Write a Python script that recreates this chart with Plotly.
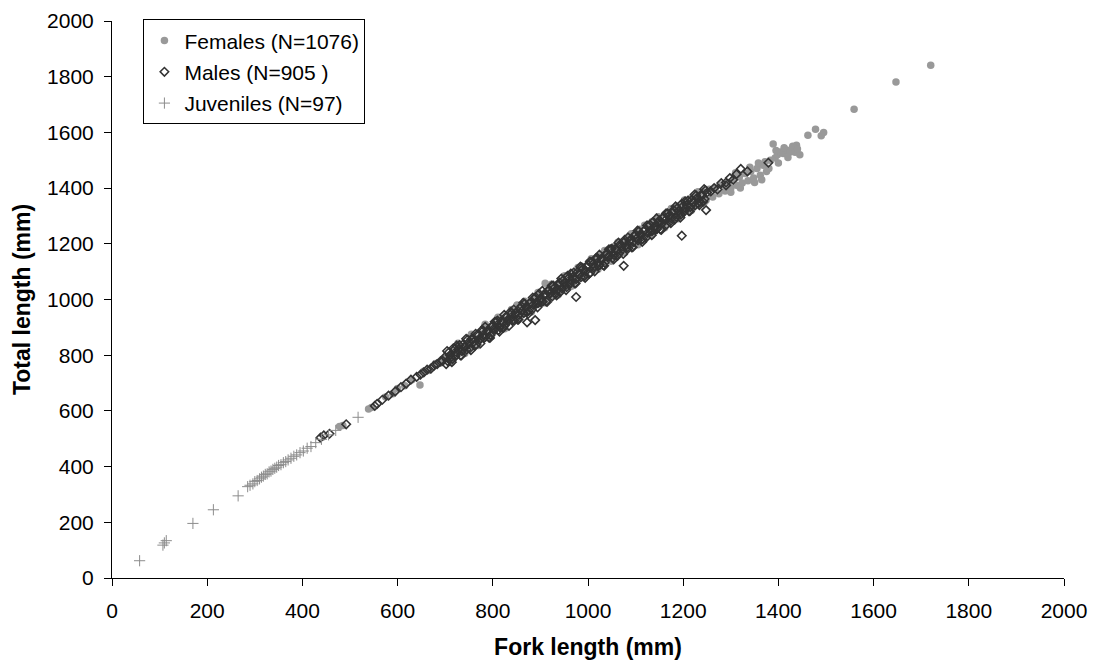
import plotly.graph_objects as go

# Fork length (FL) vs total length (TL), in mm
female_fl = [478, 485, 539, 545, 575, 590, 600, 615, 630, 647, 655, 665, 680, 690, 700, 710, 718, 725,
             735, 742, 750, 756, 762, 770, 776, 784, 790, 795, 802, 808, 815, 822, 828, 835, 842, 851,
             856, 862, 870, 876, 884, 890, 896, 902, 910, 915, 922, 928, 935, 942, 948, 955, 962, 968,
             975, 982, 988, 995, 1002, 1008, 1015, 1022, 1028, 1035, 1042, 1048, 1055, 1062, 1068, 1075,
             1082, 1088, 1095, 1102, 1108, 1115, 1122, 1128, 1135, 1142, 1148, 1155, 1162, 1168, 1175,
             1182, 1188, 1195, 1202, 1208, 1215, 1222, 1228, 1235, 1242, 1248, 1255, 1262, 1268, 1275,
             1282, 1288, 1295, 1300, 1306, 1312, 1318, 1324, 1330, 1336, 1342, 1348, 1355, 1362, 1368,
             1375, 1383, 1389, 1393, 1398, 1404, 1410, 1418, 1425, 1435, 1438, 1462, 1478, 1490, 1495,
             1559, 1647, 1720,
             713, 727, 741, 755, 769, 783, 797, 811, 825, 839, 853, 867, 881, 895, 909, 923, 937, 951,
             965, 979, 993, 1007, 1021, 1035, 1049, 1063, 1077, 1091, 1105, 1119, 1133, 1147, 1161,
             1175, 1189, 1203, 1217, 1231, 1245,
             1300, 1310, 1320, 1340, 1350, 1358, 1365, 1372, 1380, 1395, 1400, 1412, 1420, 1430, 1440,
             1445]
female_tl = [544, 548, 607, 612, 650, 662, 680, 690, 712, 693, 742, 745, 770, 772, 790, 800, 812, 808,
             830, 826, 846, 836, 860, 852, 876, 911, 870, 898, 884, 912, 900, 928, 914, 944, 926, 980,
             942, 975, 958, 990, 972, 1006, 984, 1018, 1058, 1000, 1036, 1014, 1052, 1030, 1068, 1044,
             1084, 1060, 1100, 1076, 1116, 1090, 1134, 1108, 1146, 1122, 1160, 1136, 1178, 1150, 1190,
             1166, 1206, 1180, 1220, 1196, 1236, 1210, 1252, 1226, 1266, 1240, 1280, 1254, 1294, 1268,
             1306, 1282, 1322, 1296, 1336, 1310, 1348, 1324, 1362, 1334, 1374, 1346, 1386, 1356, 1396,
             1368, 1402, 1380, 1412, 1390, 1420, 1400, 1432, 1410, 1440, 1418, 1452, 1426, 1460, 1436,
             1470, 1446, 1482, 1460, 1500, 1558, 1508, 1520, 1530, 1524, 1536, 1530, 1529, 1554, 1590,
             1611, 1588, 1600, 1683, 1781, 1841,
             774, 843, 806, 875, 835, 904, 867, 936, 895, 964, 927, 994, 955, 1025, 988, 1055, 1016,
             1085, 1048, 1115, 1076, 1146, 1109, 1176, 1137, 1206, 1169, 1236, 1197, 1267, 1230, 1297,
             1258, 1327, 1290, 1357, 1320, 1387, 1351,
             1385, 1455, 1400, 1475, 1420, 1490, 1430, 1495, 1470, 1535, 1490, 1545, 1510, 1550, 1540,
             1520]

male_fl = [438, 445, 457, 492, 552, 557, 568, 581, 595, 607, 618, 628, 640, 648, 655, 662, 670, 676,
           683, 690, 695,
           700, 705, 710, 715, 720, 725, 730, 735, 740, 745, 750, 755, 760, 765, 770, 775, 780, 785,
           790, 795, 800, 805, 810, 815, 820, 825, 830, 835, 840, 845, 850, 855, 860, 865, 870, 875,
           880, 885, 890, 895, 900, 905, 910, 915, 920, 925, 930, 935, 940, 945, 950, 955, 960, 965,
           970, 975, 980, 985, 990, 995, 1000, 1005, 1010, 1015, 1020, 1025, 1030, 1035, 1040, 1045,
           1050, 1055, 1060, 1065, 1070, 1075, 1080, 1085, 1090, 1095, 1100, 1105, 1110, 1115, 1120,
           1125, 1130, 1135, 1140, 1145, 1150, 1155, 1160, 1165, 1170, 1175, 1180, 1185, 1190, 1195,
           1200, 1205, 1210, 1215, 1220, 1225, 1230, 1235, 1240, 1245, 1250,
           702, 707, 712, 717, 722, 727, 732, 737, 742, 747, 752, 757, 762, 767, 772, 777, 782, 787,
           792, 797, 802, 807, 812, 817, 822, 827, 832, 837, 842, 847, 852, 857, 862, 867, 872, 877,
           882, 887, 892, 897, 902, 907, 912, 917, 922, 927, 932, 937, 942, 947, 952, 957, 962, 967,
           972, 977, 982, 987, 992, 997, 1002, 1007, 1012, 1017, 1022, 1027, 1032, 1037, 1042, 1047,
           1052, 1057, 1062, 1067, 1072, 1077, 1082, 1087, 1092, 1097, 1102, 1107, 1112, 1117, 1122,
           1127, 1132, 1137, 1142, 1147, 1152, 1157, 1162, 1167, 1172, 1177, 1182, 1187, 1192, 1197,
           1202, 1207, 1212, 1217, 1222, 1227, 1232, 1237, 1242, 1247,
           704, 714, 724, 734, 744, 754, 764, 774, 784, 794, 804, 814, 824, 834, 844, 854, 864, 874,
           884, 894, 904, 914, 924, 934, 944, 954, 964, 974, 984, 994, 1004, 1014, 1024, 1034, 1044,
           1054, 1064, 1074, 1084, 1094, 1104, 1114, 1124, 1134, 1144, 1154, 1164, 1174, 1184, 1194,
           1204, 1214, 1224, 1234, 1244,
           1258, 1265, 1272, 1280, 1290, 1298, 1305, 1312, 1321, 1335, 1379,
           1248, 1290, 1197, 1075, 975, 889, 872]
male_tl = [504, 512, 518, 552, 618, 625, 640, 655, 670, 685, 698, 712, 722, 730, 738, 748, 752, 762,
           768, 778, 780,
           794, 779, 800, 786, 822, 808, 836, 815, 830, 820, 847, 858, 848, 838, 871, 860, 888, 867,
           887, 872, 905, 893, 924, 900, 918, 907, 938, 928, 952, 924, 954, 945, 976, 951, 973, 959,
           990, 981, 1009, 987, 1003, 992, 1021, 1031, 1021, 1011, 1043, 1033, 1061, 1040, 1060, 1044,
           1078, 1066, 1097, 1073, 1090, 1080, 1111, 1101, 1125, 1096, 1127, 1118, 1149, 1124, 1145,
           1132, 1163, 1154, 1182, 1159, 1176, 1165, 1194, 1204, 1193, 1184, 1216, 1206, 1234, 1212,
           1233, 1217, 1251, 1239, 1269, 1246, 1263, 1253, 1284, 1273, 1298, 1269, 1300, 1291, 1321,
           1297, 1318, 1305, 1336, 1326, 1355, 1332, 1349, 1338, 1366, 1352, 1374, 1361, 1384,
           768, 809, 791, 825, 797, 820, 799, 838, 830, 856, 825, 857, 833, 873, 856, 890, 862, 885,
           863, 903, 895, 921, 890, 921, 898, 938, 921, 955, 926, 950, 928, 968, 960, 985, 955, 986,
           963, 1003, 985, 1020, 991, 1015, 993, 1032, 1025, 1050, 1020, 1051, 1027, 1068, 1050, 1085,
           1056, 1079, 1058, 1097, 1090, 1115, 1084, 1116, 1092, 1133, 1115, 1149, 1121, 1144, 1123,
           1162, 1154, 1180, 1149, 1181, 1157, 1197, 1180, 1214, 1186, 1209, 1187, 1227, 1219, 1245,
           1214, 1245, 1222, 1262, 1245, 1279, 1250, 1274, 1252, 1292, 1284, 1309, 1279, 1310, 1287,
           1327, 1309, 1344, 1315, 1339, 1317, 1356, 1349, 1374, 1344, 1375, 1351, 1392,
           815, 775, 834, 799, 859, 818, 877, 842, 902, 862, 920, 885, 945, 905, 964, 928, 988, 948,
           1007, 972, 1031, 991, 1050, 1015, 1075, 1034, 1093, 1058, 1118, 1078, 1136, 1101, 1161,
           1121, 1180, 1144, 1204, 1164, 1223, 1188, 1247, 1207, 1266, 1231, 1291, 1250, 1309, 1274,
           1334, 1294, 1352, 1317, 1377, 1339, 1396,
           1388, 1400, 1395, 1418, 1420, 1436, 1430, 1450, 1469, 1460, 1491,
           1321, 1410, 1229, 1121, 1009, 926, 918]

juv_fl = [58, 107, 110, 114, 170, 213, 265, 285, 290, 296, 300, 305, 310, 314, 318, 322, 326, 330,
          334, 338, 342, 346, 350, 355, 360, 365, 370, 376, 382, 388, 395, 402, 410, 418, 428, 440,
          455, 470, 517]
juv_tl = [62, 118, 126, 134, 196, 245, 295, 328, 333, 338, 346, 350, 356, 362, 366, 372, 374, 381,
          384, 390, 394, 398, 404, 407, 414, 418, 424, 430, 437, 442, 450, 456, 466, 472, 486, 498,
          514, 530, 577]

labels = ["Females (N=1076)", "Males (N=905 )", "Juveniles (N=97)"]
ticks = [0, 200, 400, 600, 800, 1000, 1200, 1400, 1600, 1800, 2000]

FONT = "Liberation Sans, Arial, sans-serif"

fig = go.Figure()
fig.add_trace(go.Scatter(
    x=female_fl, y=female_tl, mode="markers", name=labels[0], legendgroup="f",
    marker=dict(symbol="circle", size=7.5, color="#999999", line=dict(width=0)),
))
fig.add_trace(go.Scatter(
    x=male_fl, y=male_tl, mode="markers", name=labels[1], legendgroup="m",
    marker=dict(symbol="diamond-open", size=6.5, color="#333333",
                line=dict(width=1.6, color="#333333")),
))
fig.add_trace(go.Scatter(
    x=juv_fl, y=juv_tl, mode="markers", name=labels[2], legendgroup="j",
    marker=dict(symbol="cross-thin-open", size=8, color="#8c8c8c",
                line=dict(width=1, color="#8c8c8c")),
))

axis_common = dict(
    range=[0, 2000], tickvals=ticks, showgrid=False, zeroline=False,
    showline=True, linecolor="black", linewidth=1,
    ticks="outside", ticklen=7, tickcolor="black", tickwidth=1,
    tickfont=dict(family=FONT, size=21, color="black"),
)

fig.update_xaxes(
    **axis_common,
    ticklabelstandoff=7,
    title=dict(text="Fork length (mm)", standoff=17,
               font=dict(family=FONT, size=23, color="black", weight="bold")),
)
fig.update_yaxes(
    **axis_common,
    ticklabelstandoff=6,
    title=dict(text="Total length (mm)", standoff=10,
               font=dict(family=FONT, size=23, color="black", weight="bold")),
)

fig.update_layout(
    width=1093, height=662,
    margin=dict(l=112, r=29, t=21, b=84, autoexpand=False),
    paper_bgcolor="white", plot_bgcolor="white",
    font=dict(family=FONT, color="black"),
    legend=dict(
        x=0.033, y=1.003, xanchor="left", yanchor="top",
        bgcolor="white", bordercolor="black", borderwidth=1,
        font=dict(family=FONT, size=21, color="black"),
        tracegroupgap=1, itemsizing="trace",
    ),
    showlegend=True,
)

fig.write_html("out.html")
